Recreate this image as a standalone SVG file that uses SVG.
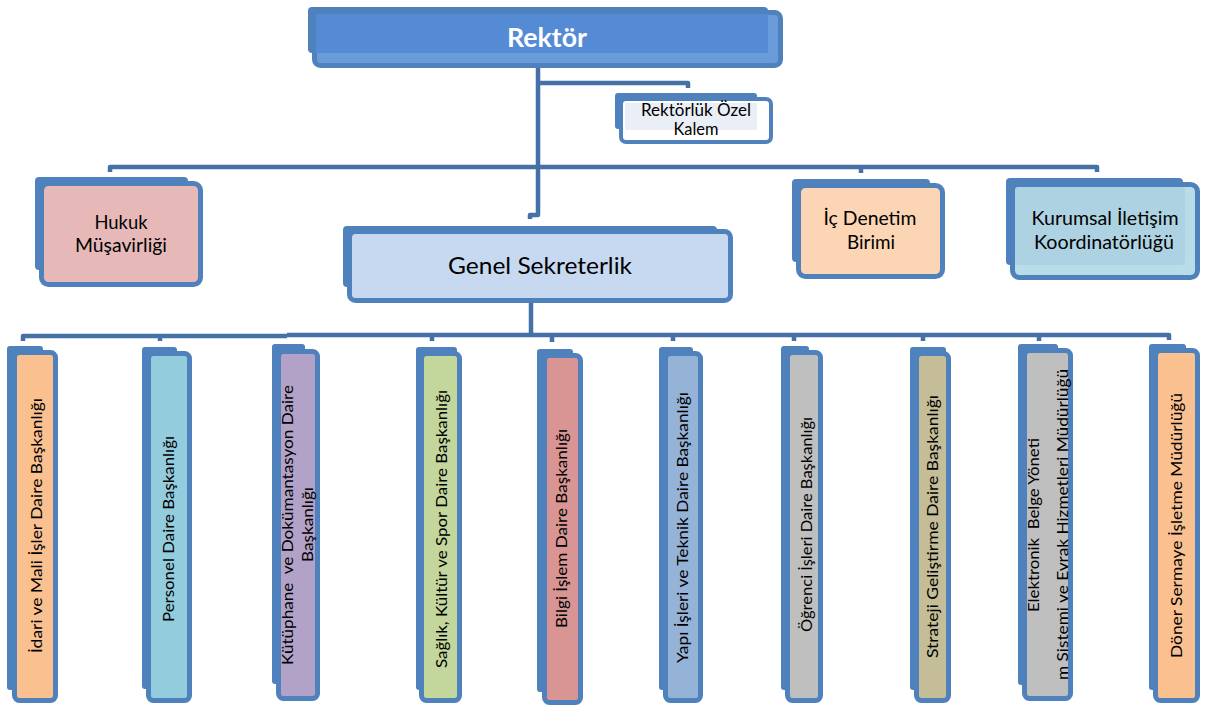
<svg xmlns="http://www.w3.org/2000/svg" width="1205" height="706" viewBox="0 0 1205 706">
<style>
.bk{fill:#4F81BD}
.fr{stroke:#4F81BD;stroke-width:5}
.t{font-family:Lato,"Open Sans","Liberation Sans",sans-serif;fill:#000;text-anchor:middle;white-space:pre}
.v{font-size:16px}
.c{fill:none;stroke:#4571A6;stroke-width:4.5;stroke-linejoin:round}
</style>
<rect width="1205" height="706" fill="#fff"/>
<g id="connectors" class="c">
<path d="M538,58 V215 H530 V219"/>
<path d="M538,83 H688 V88"/>
<path d="M110,172 V167 H1097 V172"/>
<path d="M861,167 V173"/>
<path d="M531,303 V335"/>
<path d="M23,341 V336 H287"/>
<path d="M287,335 H1169 V340"/>
<path d="M160,335 V341 M432,335 V341 M552,335 V342 M673,335 V341 M794,335 V341 M923,335 V341 M1039,335 V341"/>
</g>
<g id="n-rektor">
<rect class="bk" x="308" y="7" width="460" height="46" rx="4"/>
<rect class="fr" x="314.5" y="12.5" width="466" height="53" rx="6" fill="#6A9BDA"/>
<rect x="316" y="14" width="452" height="39" fill="#548BD4"/>
<text class="t" x="547" y="47" font-size="26" font-weight="bold" style="fill:#fff" textLength="80" lengthAdjust="spacingAndGlyphs">Rektör</text>
</g>
<g id="n-ozelkalem">
<rect class="bk" x="615" y="93" width="142" height="36" rx="3"/>
<rect class="fr" x="621" y="99" width="150" height="43" rx="5" fill="#fff" style="stroke-width:4"/>
<rect x="625" y="103" width="132" height="27" fill="#E9EEF7"/>
<text class="t" x="696" y="116" font-size="16.5" textLength="110" lengthAdjust="spacingAndGlyphs">Rektörlük Özel</text>
<text class="t" x="696" y="135" font-size="16.5" textLength="45" lengthAdjust="spacingAndGlyphs">Kalem</text>
</g>
<g id="n-hukuk">
<rect class="bk" x="35" y="177" width="153" height="93" rx="4"/>
<rect class="fr" x="41.5" y="183.5" width="159" height="101" rx="7" fill="#E6B9B8"/>
<text class="t" x="121" y="229" font-size="19" textLength="53" lengthAdjust="spacingAndGlyphs">Hukuk</text>
<text class="t" x="121" y="252" font-size="19" textLength="92" lengthAdjust="spacingAndGlyphs">Müşavirliği</text>
</g>
<g id="n-genelsekreterlik">
<rect class="bk" x="343" y="226" width="374" height="61" rx="4"/>
<rect class="fr" x="349.5" y="231.5" width="381" height="69" rx="6" fill="#C6D9F1"/>
<text class="t" x="540" y="274" font-size="24" textLength="184" lengthAdjust="spacingAndGlyphs">Genel Sekreterlik</text>
</g>
<g id="n-icdenetim">
<rect class="bk" x="792" y="179" width="138" height="83" rx="4"/>
<rect class="fr" x="798.5" y="185.5" width="144" height="91" rx="7" fill="#FCD5B5"/>
<text class="t" x="870" y="225" font-size="19" textLength="93" lengthAdjust="spacingAndGlyphs">İç Denetim</text>
<text class="t" x="871" y="249" font-size="19" textLength="48" lengthAdjust="spacingAndGlyphs">Birimi</text>
</g>
<g id="n-kurumsal">
<rect class="bk" x="1006" y="178" width="177" height="87" rx="4"/>
<rect class="fr" x="1012.5" y="184.5" width="185" height="93" rx="7" fill="#B8DDE9"/>
<rect x="1015" y="187" width="170" height="78" rx="3" fill="#ADD3E2"/>
<text class="t" x="1105" y="225" font-size="19" textLength="147" lengthAdjust="spacingAndGlyphs">Kurumsal İletişim</text>
<text class="t" x="1104" y="249" font-size="19" textLength="140" lengthAdjust="spacingAndGlyphs">Koordinatörlüğü</text>
</g>
<g id="n-idari">
<rect class="bk" x="7" y="346" width="36" height="344" rx="3"/>
<rect class="fr" x="14.5" y="352.5" width="41" height="348" rx="5" fill="#FAC090"/>
<text class="t v" transform="translate(42,525.5) rotate(-90)" textLength="255" lengthAdjust="spacingAndGlyphs">İdari ve Mali İşler Daire Başkanlığı</text>
</g>
<g id="n-personel">
<rect class="bk" x="142" y="347" width="35" height="342" rx="3"/>
<rect class="fr" x="148.5" y="353.5" width="41" height="347" rx="5" fill="#93CDDD"/>
<text class="t v" transform="translate(174,529) rotate(-90)" textLength="186" lengthAdjust="spacingAndGlyphs">Personel Daire Başkanlığı</text>
</g>
<g id="n-kutuphane">
<rect class="bk" x="272" y="344" width="33" height="340" rx="3"/>
<rect class="fr" x="278.5" y="351.5" width="39" height="347" rx="5" fill="#B3A2C7"/>
<text class="t v" transform="translate(292.5,525) rotate(-90)" textLength="280" lengthAdjust="spacingAndGlyphs">Kütüphane  ve Dokümantasyon Daire</text>
<text class="t v" transform="translate(313,524.5) rotate(-90)" textLength="75" lengthAdjust="spacingAndGlyphs">Başkanlığı</text>
</g>
<g id="n-saglik">
<rect class="bk" x="416" y="347" width="41" height="343" rx="3"/>
<rect class="fr" x="421.5" y="353.5" width="38" height="347" rx="5" fill="#C3D69B"/>
<text class="t v" transform="translate(446.5,529) rotate(-90)" textLength="278" lengthAdjust="spacingAndGlyphs">Sağlık, Kültür ve Spor Daire Başkanlığı</text>
</g>
<g id="n-bilgi">
<rect class="bk" x="537" y="349" width="36" height="343" rx="3"/>
<rect class="fr" x="544.5" y="355.5" width="36" height="347" rx="5" fill="#D99594"/>
<text class="t v" transform="translate(566.5,528.5) rotate(-90)" textLength="199" lengthAdjust="spacingAndGlyphs">Bilgi İşlem Daire Başkanlığı</text>
</g>
<g id="n-yapi">
<rect class="bk" x="659" y="347" width="34" height="343" rx="3"/>
<rect class="fr" x="665.5" y="353.5" width="35" height="347" rx="5" fill="#95B3D7"/>
<text class="t v" transform="translate(688,527.5) rotate(-90)" textLength="271" lengthAdjust="spacingAndGlyphs">Yapı İşleri ve Teknik Daire Başkanlığı</text>
</g>
<g id="n-ogrenci">
<rect class="bk" x="781" y="346" width="28" height="344" rx="3"/>
<rect class="fr" x="787.5" y="352.5" width="33" height="348" rx="5" fill="#BFBFBF"/>
<text class="t v" transform="translate(812,524.5) rotate(-90)" textLength="215" lengthAdjust="spacingAndGlyphs">Öğrenci İşleri Daire Başkanlığı</text>
</g>
<g id="n-strateji">
<rect class="bk" x="910" y="347" width="36" height="343" rx="3"/>
<rect class="fr" x="916.5" y="353.5" width="32" height="347" rx="5" fill="#C4BD97"/>
<text class="t v" transform="translate(938,526.5) rotate(-90)" textLength="263" lengthAdjust="spacingAndGlyphs">Strateji Geliştirme Daire Başkanlığı</text>
</g>
<g id="n-elektronik">
<rect class="bk" x="1018" y="344" width="40" height="341" rx="3"/>
<rect class="fr" x="1024.5" y="350.5" width="46" height="348" rx="5" fill="#BFBFBF"/>
<text class="t v" transform="translate(1039,525) rotate(-90)" textLength="174" lengthAdjust="spacingAndGlyphs">Elektronik  Belge Yöneti</text>
<text class="t v" transform="translate(1068,524.5) rotate(-90)" textLength="311" lengthAdjust="spacingAndGlyphs">m Sistemi ve Evrak Hizmetleri Müdürlüğü</text>
</g>
<g id="n-doner">
<rect class="bk" x="1149" y="344" width="37" height="346" rx="3"/>
<rect class="fr" x="1155.5" y="350.5" width="42" height="350" rx="5" fill="#FAC090"/>
<text class="t v" transform="translate(1182,525.5) rotate(-90)" textLength="265" lengthAdjust="spacingAndGlyphs">Döner Sermaye İşletme Müdürlüğü</text>
</g>
</svg>
